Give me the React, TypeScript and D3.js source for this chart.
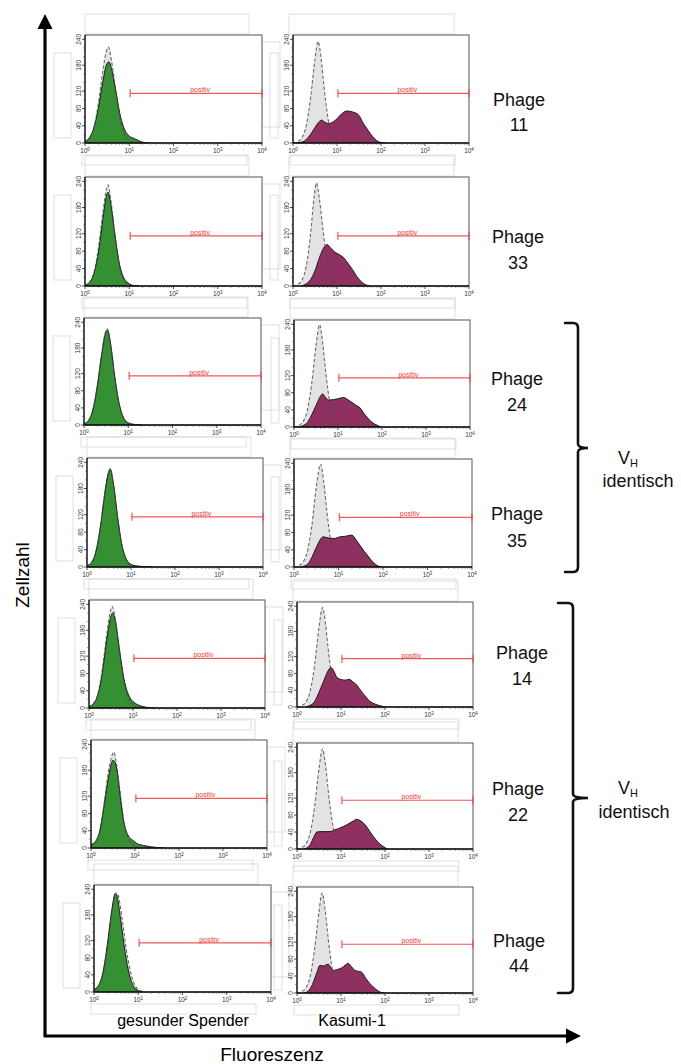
import React from 'react';
import * as d3 from 'd3';

// ---------------- DATA ----------------
const phages = ['11', '33', '24', '35', '14', '22', '44'];
const yTickValues = [0, 40, 80, 120, 180, 240];
const xDecades = [0, 1, 2, 3, 4];
const gateStart = 1.02; // log10 fluorescence
const gateEnd = 4;
const gateLevel = 115; // cell count level of gate bar
const gateLabel = 'positiv';

// [log10 fluorescence, cell count]
// healthy donor (green) and its isotype control (dashed)
const green11 = [[0,4],[0.1,12],[0.2,35],[0.3,80],[0.4,140],[0.48,180],[0.54,188],[0.6,172],[0.7,118],[0.8,62],[0.9,30],[1.0,16],[1.1,11],[1.2,6],[1.3,2],[1.45,0]];
const ctrlL11 = [[0,3],[0.1,10],[0.2,35],[0.3,90],[0.4,165],[0.48,212],[0.53,222],[0.6,190],[0.7,118],[0.8,52],[0.9,18],[1.0,6],[1.1,2],[1.25,0]];
const green33 = [[0,2],[0.1,8],[0.2,28],[0.3,75],[0.4,150],[0.47,200],[0.52,215],[0.58,190],[0.68,115],[0.78,50],[0.88,18],[1.0,5],[1.1,1],[1.2,0]];
const ctrlL33 = [[0,2],[0.1,8],[0.2,30],[0.3,85],[0.4,165],[0.47,215],[0.52,232],[0.58,200],[0.68,115],[0.78,45],[0.88,14],[1.0,3],[1.1,0]];
const green24 = [[0,3],[0.1,10],[0.2,35],[0.3,90],[0.4,165],[0.48,212],[0.53,222],[0.6,190],[0.7,110],[0.8,48],[0.9,16],[1.0,5],[1.1,2],[1.3,0]];
const ctrlL24 = [[0,3],[0.1,10],[0.2,36],[0.3,92],[0.4,168],[0.48,215],[0.53,225],[0.6,188],[0.7,106],[0.8,45],[0.9,14],[1.0,4],[1.1,1],[1.25,0]];
const green35 = [[0,3],[0.1,10],[0.2,34],[0.3,88],[0.4,165],[0.48,213],[0.53,224],[0.6,192],[0.7,112],[0.8,48],[0.9,17],[1.0,6],[1.1,3],[1.3,1],[1.5,0]];
const ctrlL35 = [[0,3],[0.1,10],[0.2,35],[0.3,90],[0.4,168],[0.48,216],[0.53,226],[0.6,190],[0.7,108],[0.8,45],[0.9,14],[1.0,4],[1.1,1],[1.25,0]];
const green14 = [[0,3],[0.1,10],[0.2,30],[0.3,80],[0.4,155],[0.48,205],[0.54,220],[0.6,200],[0.7,130],[0.8,65],[0.9,30],[1.0,15],[1.1,8],[1.2,4],[1.35,1],[1.5,0]];
const ctrlL14 = [[0,3],[0.1,10],[0.2,32],[0.3,88],[0.4,168],[0.48,222],[0.53,235],[0.6,205],[0.7,125],[0.8,55],[0.9,20],[1.0,7],[1.1,2],[1.25,0]];
const green22 = [[0,8],[0.1,15],[0.2,40],[0.3,100],[0.4,165],[0.5,203],[0.56,195],[0.63,150],[0.7,90],[0.78,45],[0.85,28],[0.95,18],[1.05,10],[1.19,6],[1.35,3],[1.5,1],[1.65,0]];
const ctrlL22 = [[0,6],[0.1,13],[0.2,40],[0.3,105],[0.4,180],[0.48,215],[0.52,222],[0.58,195],[0.66,130],[0.75,60],[0.85,22],[0.95,8],[1.05,3],[1.2,0]];
const green44 = [[0,6],[0.1,15],[0.2,45],[0.3,110],[0.4,190],[0.48,230],[0.53,220],[0.6,170],[0.7,95],[0.8,40],[0.9,12],[1.0,3],[1.1,0]];
const ctrlL44 = [[0,5],[0.1,13],[0.2,40],[0.3,100],[0.4,180],[0.5,232],[0.55,225],[0.63,175],[0.73,100],[0.83,45],[0.93,15],[1.03,4],[1.15,0]];

// Kasumi-1 (maroon) and its isotype control (grey, dashed)
const maroon11 = [[0,0],[0.2,2],[0.3,8],[0.4,20],[0.5,36],[0.6,50],[0.66,53],[0.72,48],[0.81,45],[0.9,48],[1.0,56],[1.1,67],[1.22,74],[1.35,72],[1.49,65],[1.6,45],[1.7,30],[1.8,16],[1.9,6],[2.0,1],[2.1,0]];
const ctrlR11 = [[0,0],[0.1,3],[0.2,12],[0.3,40],[0.4,105],[0.5,195],[0.57,235],[0.64,195],[0.7,135],[0.8,55],[0.9,15],[1.0,3],[1.1,0]];
const maroon33 = [[0.2,0],[0.3,5],[0.4,15],[0.5,35],[0.6,65],[0.7,88],[0.78,95],[0.85,88],[0.95,78],[1.05,72],[1.15,65],[1.25,52],[1.35,38],[1.45,22],[1.55,10],[1.65,3],[1.75,0]];
const ctrlR33 = [[0,0],[0.1,3],[0.2,13],[0.3,45],[0.4,120],[0.48,205],[0.53,236],[0.6,200],[0.68,130],[0.78,55],[0.88,16],[1.0,3],[1.1,0]];
const maroon24 = [[0.1,0],[0.2,3],[0.3,10],[0.4,28],[0.5,50],[0.58,68],[0.65,77],[0.71,70],[0.78,63],[0.9,64],[1.0,66],[1.13,69],[1.22,64],[1.32,57],[1.42,50],[1.5,45],[1.58,33],[1.66,23],[1.76,12],[1.89,4],[1.98,0]];
const ctrlR24 = [[0,0],[0.1,3],[0.2,12],[0.3,38],[0.4,100],[0.5,190],[0.58,239],[0.65,198],[0.72,130],[0.82,52],[0.92,14],[1.02,3],[1.12,0]];
const maroon35 = [[0.15,0],[0.25,3],[0.32,8],[0.4,22],[0.5,45],[0.6,65],[0.66,70],[0.77,67],[0.9,66],[1.04,70],[1.15,71],[1.3,74],[1.4,62],[1.49,49],[1.58,36],[1.68,23],[1.77,12],[1.86,4],[1.95,0]];
const ctrlR35 = [[0,0],[0.1,3],[0.2,11],[0.3,36],[0.4,95],[0.5,185],[0.6,238],[0.67,195],[0.74,128],[0.84,50],[0.94,13],[1.04,3],[1.14,0]];
const maroon14 = [[0.2,0],[0.3,4],[0.38,10],[0.5,35],[0.6,60],[0.7,85],[0.77,94],[0.84,85],[0.91,70],[1.02,65],[1.1,64],[1.18,66],[1.27,60],[1.36,52],[1.47,36],[1.55,26],[1.62,17],[1.75,8],[1.89,3],[2.0,0]];
const ctrlR14 = [[0,0],[0.1,3],[0.2,12],[0.3,38],[0.4,100],[0.5,190],[0.58,237],[0.65,196],[0.72,128],[0.82,52],[0.92,14],[1.02,3],[1.12,0]];
const maroon22 = [[0.15,0],[0.23,3],[0.3,10],[0.38,28],[0.45,40],[0.6,41],[0.75,41],[0.85,45],[0.94,48],[1.05,53],[1.13,57],[1.25,64],[1.36,70],[1.45,66],[1.55,57],[1.65,42],[1.74,29],[1.85,15],[1.96,6],[2.05,0]];
const ctrlR22 = [[0,0],[0.1,3],[0.2,12],[0.3,38],[0.4,100],[0.5,190],[0.58,236],[0.65,196],[0.72,128],[0.82,52],[0.92,14],[1.02,3],[1.12,0]];
const maroon44 = [[0.15,0],[0.25,4],[0.35,20],[0.45,48],[0.52,65],[0.6,64],[0.71,68],[0.77,60],[0.82,53],[0.9,55],[1.01,59],[1.1,66],[1.16,70],[1.24,62],[1.32,53],[1.4,51],[1.47,49],[1.56,35],[1.66,22],[1.78,10],[1.89,2],[1.98,0]];
const ctrlR44 = [[0,0],[0.1,3],[0.2,12],[0.3,40],[0.4,104],[0.5,192],[0.57,236],[0.64,196],[0.71,128],[0.81,52],[0.91,14],[1.01,3],[1.11,0]];

const donorSeries = [green11, green33, green24, green35, green14, green22, green44];
const donorControls = [ctrlL11, ctrlL33, ctrlL24, ctrlL35, ctrlL14, ctrlL22, ctrlL44];
const kasumiSeries = [maroon11, maroon33, maroon24, maroon35, maroon14, maroon22, maroon44];
const kasumiControls = [ctrlR11, ctrlR33, ctrlR24, ctrlR35, ctrlR14, ctrlR22, ctrlR44];

// ---------------- LAYOUT ----------------
const leftFrames = [
  [85, 35, 177, 108], [85, 177, 177, 109], [84, 318, 177, 107], [87, 458, 176, 109],
  [89, 600, 176, 108], [91, 740, 176, 108], [94, 885, 177, 107],
];
const rightFrames = [
  [293, 35, 176, 108], [293, 177, 176, 109], [294, 320, 176, 107], [294, 459, 178, 108],
  [297, 602, 176, 105], [297, 743, 176, 106], [297, 887, 176, 106],
];
const labelPos = [
  [519, 106, 131], [518, 243, 269], [517, 385, 411], [517, 520, 547],
  [522, 659, 685], [518, 795, 821], [519, 947, 972],
];

const FONT = "'Liberation Sans', Arial, Helvetica, sans-serif";
const GREEN = '#358f33';
const MAROON = '#8e3161';
const CTRL_FILL = '#e3e3e3';
const RED = '#ee3b3b';
const BOX = '#d6d6d6';

function Panel({ frame, main, ctrl, mainColor, isRight }) {
  const [fx, fy, fw, fh] = frame;
  const x = d3.scaleLinear().domain([0, 4]).range([fx, fx + fw]);
  const y = d3.scaleLinear().domain([0, 250]).range([fy + fh, fy]);
  const area = d3.area().x((d) => x(d[0])).y0(y(0)).y1((d) => y(d[1])).curve(d3.curveMonotoneX);
  const line = d3.line().x((d) => x(d[0])).y((d) => y(d[1])).curve(d3.curveMonotoneX);
  const clipId = `clip-${fx}-${fy}`;

  const minorX = [];
  xDecades.slice(0, 4).forEach((dec) => {
    for (let m = 2; m <= 9; m++) minorX.push(dec + Math.log10(m));
  });
  const minorY = d3.range(0, 250, 20).filter((v) => !yTickValues.includes(v));

  return (
    <g>
      {/* decorative layout boxes */}
      <g fill="none" stroke={BOX} strokeWidth={0.8}>
        <rect x={fx + (isRight ? -4 : 0)} y={fy - 21} width={isRight ? 165 : 164} height={20} />
        <rect x={fx + 2} y={fy + 3} width={18} height={12} />
        <rect x={fx + fw - 46} y={fy + 3} width={44} height={22} />
        <rect x={fx - (isRight ? 23 : 31)} y={fy + 18} width={isRight ? 8 : 17} height={85} />
        {!isRight && <rect x={fx + fw} y={fy + 7} width={18} height={85} />}
        <rect x={fx - 3} y={fy + fh + 12} width={165} height={10} />
      </g>
      <rect x={fx} y={fy} width={fw} height={fh} fill="white" stroke="#555" strokeWidth={1} />
      <clipPath id={clipId}>
        <rect x={fx} y={fy - 2} width={fw} height={fh + 2} />
      </clipPath>
      <g clipPath={`url(#${clipId})`}>
        <path d={area(ctrl)} fill={CTRL_FILL} />
        <path d={area(main)} fill={mainColor} stroke="#1a1a1a" strokeWidth={1} />
        <path d={line(ctrl)} fill="none" stroke="#4a4a4a" strokeOpacity={0.8} strokeWidth={1.1} strokeDasharray="3.5,2" />
      </g>
      {/* axes */}
      <line x1={fx} x2={fx + fw} y1={fy + fh} y2={fy + fh} stroke="#111" strokeWidth={1.4} />
      <line x1={fx} x2={fx} y1={fy} y2={fy + fh} stroke="#111" strokeWidth={1.2} />
      {xDecades.map((d) => (
        <line key={'xt' + d} x1={x(d)} x2={x(d)} y1={fy + fh} y2={fy + fh + 3} stroke="#222" strokeWidth={0.8} />
      ))}
      {minorX.map((d, i) => (
        <line key={'xm' + i} x1={x(d)} x2={x(d)} y1={fy + fh} y2={fy + fh + 1.8} stroke="#444" strokeWidth={0.6} />
      ))}
      {xDecades.map((d) => (
        <text key={'xl' + d} x={x(d)} y={fy + fh + 10} fontSize={6.5} fill="#333" textAnchor="middle" fontFamily={FONT}>
          10<tspan dy={-2.5} fontSize={4.5}>{d}</tspan>
        </text>
      ))}
      {yTickValues.map((v) => (
        <line key={'yt' + v} x1={fx - 3} x2={fx} y1={y(v)} y2={y(v)} stroke="#222" strokeWidth={0.8} />
      ))}
      {minorY.map((v) => (
        <line key={'ym' + v} x1={fx - 1.8} x2={fx} y1={y(v)} y2={y(v)} stroke="#444" strokeWidth={0.6} />
      ))}
      {yTickValues.map((v) => (
        <text key={'yl' + v} transform={`translate(${fx - 4},${y(v)}) rotate(-90)`} fontSize={6.5} fill="#333"
          textAnchor="middle" fontFamily={FONT}>{v}</text>
      ))}
      {/* gate */}
      <g stroke={RED} strokeWidth={1.2} strokeOpacity={0.85}>
        <line x1={x(gateStart)} x2={x(gateEnd)} y1={y(gateLevel)} y2={y(gateLevel)} />
        <line x1={x(gateStart)} x2={x(gateStart)} y1={y(gateLevel) - 4} y2={y(gateLevel) + 4} />
        <line x1={x(gateEnd)} x2={x(gateEnd)} y1={y(gateLevel) - 4} y2={y(gateLevel) + 4} />
      </g>
      <text x={x(2.6)} y={y(gateLevel) - 1} fontSize={7} fill={RED} textAnchor="middle" fontFamily={FONT}>{gateLabel}</text>
    </g>
  );
}

function Bracket({ x0, x1, top, bottom, mid, notch }) {
  const r = 5;
  const d = `M${x0},${top} L${x1 - r},${top} Q${x1},${top} ${x1},${top + r} L${x1},${mid - 4} Q${x1},${mid} ${notch},${mid} ` +
    `Q${x1},${mid} ${x1},${mid + 4} L${x1},${bottom - r} Q${x1},${bottom} ${x1 - r},${bottom} L${x0},${bottom}`;
  return <path d={d} fill="none" stroke="#111" strokeWidth={2.6} strokeLinecap="round" />;
}

export default function App() {
  return (
    <svg width={681} height={1064} style={{ position: 'absolute', left: 0, top: 0, background: 'white' }}
      fontFamily={FONT}>
      <rect x={0} y={0} width={681} height={1064} fill="white" />
      {phages.map((p, i) => (
        <g key={p}>
          <Panel frame={leftFrames[i]} main={donorSeries[i]} ctrl={donorControls[i]} mainColor={GREEN} isRight={false} />
          <Panel frame={rightFrames[i]} main={kasumiSeries[i]} ctrl={kasumiControls[i]} mainColor={MAROON} isRight={true} />
          <text x={labelPos[i][0]} y={labelPos[i][1]} fontSize={18} textAnchor="middle" fill="#111">Phage</text>
          <text x={labelPos[i][0]} y={labelPos[i][2]} fontSize={18} textAnchor="middle" fill="#111">{p}</text>
        </g>
      ))}

      {/* axes arrows */}
      <line x1={45} x2={45} y1={1037} y2={26} stroke="#000" strokeWidth={3.2} />
      <polygon points="37.5,29 52.5,29 45,14" fill="#000" />
      <line x1={44} x2={568} y1={1036} y2={1036} stroke="#000" strokeWidth={3.2} />
      <polygon points="566,1028.5 566,1043.5 581,1036" fill="#000" />

      <text transform="translate(29,575) rotate(-90)" fontSize={19} textAnchor="middle" fill="#000">Zellzahl</text>
      <text x={272} y={1061} fontSize={19} textAnchor="middle" fill="#000">Fluoreszenz</text>
      <text x={183} y={1026} fontSize={16} textAnchor="middle" fill="#000">gesunder Spender</text>
      <text x={352} y={1026} fontSize={16} textAnchor="middle" fill="#000">Kasumi-1</text>

      <Bracket x0={565} x1={578} top={323} bottom={572} mid={448} notch={588} />
      <Bracket x0={558} x1={573} top={603} bottom={993} mid={798} notch={588} />

      <text x={618} y={464} fontSize={18} fill="#111">V<tspan fontSize={11} dy={3}>H</tspan></text>
      <text x={638} y={487} fontSize={18} textAnchor="middle" fill="#111">identisch</text>
      <text x={618} y={794} fontSize={18} fill="#111">V<tspan fontSize={11} dy={3}>H</tspan></text>
      <text x={634} y={818} fontSize={18} textAnchor="middle" fill="#111">identisch</text>
    </svg>
  );
}
